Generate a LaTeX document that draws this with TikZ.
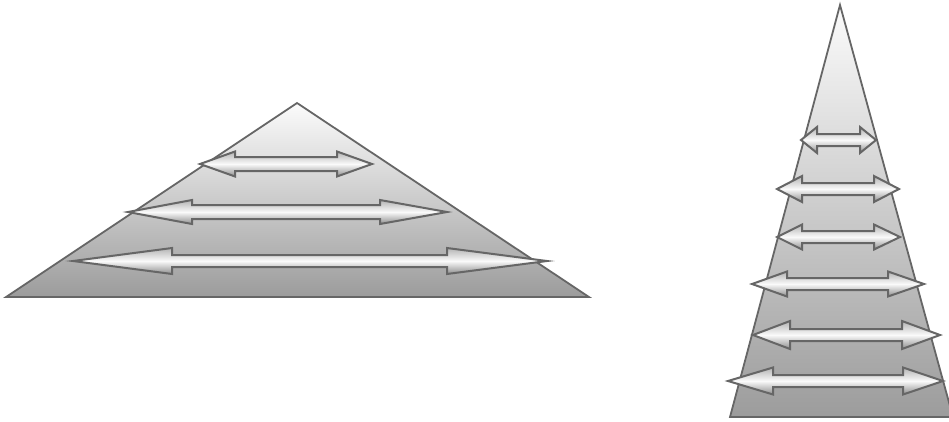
\documentclass[tikz,border=0pt]{standalone}
\usetikzlibrary{calc}
\definecolor{edge}{HTML}{666666}
\definecolor{tritop}{HTML}{FBFBFB}
\definecolor{tribot}{HTML}{9C9C9C}
\definecolor{arrtop}{HTML}{B4B4B4}
\definecolor{arrmid}{HTML}{FAFAFA}
\definecolor{arrbot}{HTML}{8E8E8E}
\tikzset{
  tri/.style={draw=edge, line width=1.8pt, line join=miter, top color=tritop, bottom color=tribot, shading=axis},
  darr/.style={draw=edge, line width=2pt, line join=miter, top color=arrtop, bottom color=arrbot, middle color=arrmid, shading=axis},
}
% \darrow{y}{xleft}{xright}{headleft}{headright}{headhalf}{shafthalf}
\newcommand\darrow[7]{%
  \path[darr] (#2,#1) -- (#2+#4,#1-#6) -- (#2+#4,#1-#7) -- (#3-#5,#1-#7) -- (#3-#5,#1-#6)
    -- (#3,#1) -- (#3-#5,#1+#6) -- (#3-#5,#1+#7) -- (#2+#4,#1+#7) -- (#2+#4,#1+#6) -- cycle;}
\begin{document}
\begin{tikzpicture}[x=1pt,y=-1pt]
\useasboundingbox (0,0) rectangle (949,421);
% left triangle
\path[tri] (297,103) -- (589,297) -- (6,297) -- cycle;
\darrow{164}{200}{372}{35}{35}{12.5}{7}
\darrow{212}{128}{447}{64}{67}{12}{7}
\darrow{261}{73}{547}{99}{100}{13}{6}
% right triangle
\path[tri] (840,5) -- (953,417) -- (730,417) -- cycle;
\darrow{140}{801}{876}{16}{16}{13}{6}
\darrow{189}{777}{899}{25}{25}{13}{6}
\darrow{237}{777}{900}{25}{26}{12.5}{6}
\darrow{284}{752}{924}{35}{36}{12.5}{6}
\darrow{335}{753}{940}{37}{38}{14}{6}
\darrow{381}{728}{943}{45}{40}{13.5}{6}
\end{tikzpicture}
\end{document}
